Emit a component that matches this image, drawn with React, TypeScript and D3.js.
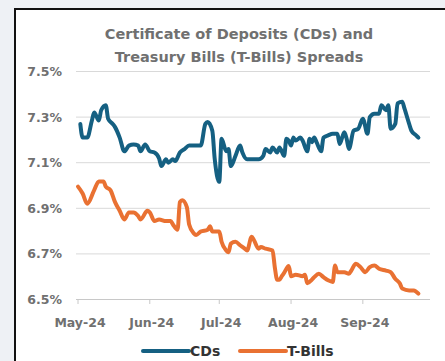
import React from "react";
import * as d3 from "d3";

const cdDates = ["2024-05-02","2024-05-03","2024-05-05","2024-05-07","2024-05-08","2024-05-10","2024-05-11","2024-05-13","2024-05-14","2024-05-16","2024-05-17","2024-05-19","2024-05-21","2024-05-23","2024-05-25","2024-05-27","2024-05-28","2024-05-30","2024-06-01","2024-06-03","2024-06-05","2024-06-06","2024-06-08","2024-06-09","2024-06-11","2024-06-12","2024-06-14","2024-06-16","2024-06-18","2024-06-20","2024-06-23","2024-06-25","2024-06-26","2024-06-28","2024-06-29","2024-07-01","2024-07-02","2024-07-04","2024-07-05","2024-07-06","2024-07-08","2024-07-10","2024-07-11","2024-07-13","2024-07-16","2024-07-18","2024-07-20","2024-07-21","2024-07-23","2024-07-24","2024-07-26","2024-07-27","2024-07-29","2024-07-30","2024-07-31","2024-08-01","2024-08-02","2024-08-03","2024-08-05","2024-08-06","2024-08-08","2024-08-09","2024-08-10","2024-08-11","2024-08-12","2024-08-14","2024-08-15","2024-08-17","2024-08-19","2024-08-21","2024-08-22","2024-08-24","2024-08-25","2024-08-26","2024-08-28","2024-08-30","2024-09-01","2024-09-03","2024-09-04","2024-09-06","2024-09-08","2024-09-09","2024-09-11","2024-09-12","2024-09-13","2024-09-15","2024-09-16","2024-09-18","2024-09-19","2024-09-21","2024-09-22","2024-09-24","2024-09-25"];
const cdValues = [7.27,7.21,7.21,7.285,7.32,7.285,7.33,7.352,7.293,7.27,7.256,7.21,7.15,7.175,7.18,7.175,7.15,7.18,7.15,7.145,7.12,7.085,7.115,7.1,7.115,7.107,7.145,7.16,7.175,7.175,7.175,7.27,7.278,7.24,7.12,7.016,7.205,7.15,7.16,7.085,7.13,7.175,7.145,7.115,7.115,7.115,7.13,7.16,7.145,7.167,7.145,7.167,7.13,7.205,7.197,7.175,7.21,7.197,7.21,7.197,7.15,7.205,7.19,7.21,7.19,7.15,7.21,7.22,7.227,7.227,7.182,7.234,7.205,7.16,7.24,7.249,7.293,7.227,7.3,7.315,7.315,7.352,7.33,7.352,7.249,7.27,7.36,7.367,7.337,7.27,7.24,7.22,7.21];

const tbDates = ["2024-05-01","2024-05-03","2024-05-05","2024-05-08","2024-05-10","2024-05-12","2024-05-13","2024-05-15","2024-05-17","2024-05-19","2024-05-21","2024-05-23","2024-05-25","2024-05-27","2024-05-28","2024-05-31","2024-06-01","2024-06-03","2024-06-05","2024-06-08","2024-06-10","2024-06-11","2024-06-13","2024-06-14","2024-06-15","2024-06-17","2024-06-18","2024-06-20","2024-06-21","2024-06-23","2024-06-26","2024-06-27","2024-06-28","2024-07-01","2024-07-02","2024-07-04","2024-07-05","2024-07-06","2024-07-08","2024-07-10","2024-07-12","2024-07-13","2024-07-15","2024-07-16","2024-07-18","2024-07-19","2024-07-21","2024-07-24","2024-07-25","2024-07-26","2024-07-27","2024-07-28","2024-07-29","2024-07-31","2024-08-01","2024-08-03","2024-08-06","2024-08-07","2024-08-08","2024-08-10","2024-08-11","2024-08-13","2024-08-15","2024-08-17","2024-08-19","2024-08-20","2024-08-21","2024-08-24","2024-08-26","2024-08-27","2024-08-29","2024-08-31","2024-09-02","2024-09-04","2024-09-06","2024-09-08","2024-09-11","2024-09-13","2024-09-15","2024-09-17","2024-09-18","2024-09-21","2024-09-23","2024-09-25"];
const tbValues = [6.995,6.965,6.92,6.98,7.018,7.018,6.995,6.98,6.927,6.889,6.851,6.882,6.882,6.866,6.851,6.889,6.882,6.844,6.851,6.844,6.844,6.829,6.806,6.927,6.935,6.905,6.829,6.79,6.783,6.798,6.806,6.821,6.798,6.798,6.753,6.715,6.707,6.745,6.753,6.738,6.723,6.715,6.775,6.76,6.723,6.73,6.723,6.715,6.64,6.587,6.587,6.602,6.617,6.647,6.602,6.609,6.602,6.609,6.571,6.587,6.598,6.613,6.598,6.584,6.577,6.649,6.62,6.62,6.613,6.627,6.657,6.642,6.62,6.642,6.649,6.635,6.627,6.62,6.591,6.57,6.548,6.54,6.54,6.526];

const yTicks = [6.5, 6.7, 6.9, 7.1, 7.3, 7.5];
const xTickDates = ["2024-05-01", "2024-06-01", "2024-07-01", "2024-08-01", "2024-09-01"];
const xTickLabels = ["May-24", "Jun-24", "Jul-24", "Aug-24", "Sep-24"];
const titleLines = ["Certificate of Deposits (CDs) and", "Treasury Bills (T-Bills) Spreads"];
const seriesNames = ["CDs", "T-Bills"];
const seriesColors = ["#156082", "#E97132"];

const parse = d3.utcParse("%Y-%m-%d");
const FONT = "'DejaVu Sans', sans-serif";

export default function App() {
  const W = 445, H = 361;
  const x = d3.scaleUtc()
    .domain([parse("2024-05-01")!, parse("2024-09-30")!])
    .range([78, 430]);
  const y = d3.scaleLinear().domain([6.5, 7.5]).range([299.5, 71.5]);

  const series = [
    cdDates.map((d, i) => ({ date: parse(d)!, v: cdValues[i] })),
    tbDates.map((d, i) => ({ date: parse(d)!, v: tbValues[i] })),
  ];
  const line = d3.line<{ date: Date; v: number }>()
    .x((d) => x(d.date))
    .y((d) => y(d.v))
    .curve(d3.curveMonotoneX);

  return (
    <svg width={W} height={H} style={{ position: "absolute", left: 0, top: 0, display: "block" }}>
      <rect x={0} y={0} width={W} height={H} fill="#eef1f5" />
      <rect x={15} y={9} width={W} height={H} fill="#ffffff" stroke="#111" strokeWidth={2} />
      {titleLines.map((t, i) => (
        <text key={t} x={239} y={39 + i * 22.5} textAnchor="middle" fontFamily={FONT}
          fontWeight={700} fontSize={14.5} fill="#707070">{t}</text>
      ))}
      {yTicks.map((t) => (
        <g key={t}>
          <line x1={76} x2={430} y1={y(t)} y2={y(t)} stroke={t === 6.5 ? "#c8c8c8" : "#d9d9d9"} strokeWidth={1} />
          <text x={62} y={y(t) + 4.5} textAnchor="end" fontFamily={FONT} fontSize={12.5}
            fontWeight={700} fill="#707070">{t.toFixed(1)}%</text>
        </g>
      ))}
      {xTickDates.map((d, i) => (
        <g key={d}>
          <line x1={x(parse(d)!)} x2={x(parse(d)!)} y1={299.5} y2={304} stroke="#c8c8c8" />
          <text x={x(parse(d)!) + 2} y={327} textAnchor="middle" fontFamily={FONT} fontSize={12.5}
            fontWeight={700} fill="#707070">{xTickLabels[i]}</text>
        </g>
      ))}
      {series.map((s, i) => (
        <path key={i} d={line(s) || ""} fill="none" stroke={seriesColors[i]} strokeWidth={4}
          strokeLinejoin="round" strokeLinecap="round" />
      ))}
      {seriesNames.map((n, i) => {
        const lx = i === 0 ? 143 : 240;
        return (
          <g key={n}>
            <line x1={lx} x2={lx + 46} y1={351} y2={351} stroke={seriesColors[i]} strokeWidth={4} strokeLinecap="round" />
            <text x={lx + 47} y={356} fontFamily={FONT} fontSize={14} fontWeight={700} fill="#333">{n}</text>
          </g>
        );
      })}
    </svg>
  );
}
